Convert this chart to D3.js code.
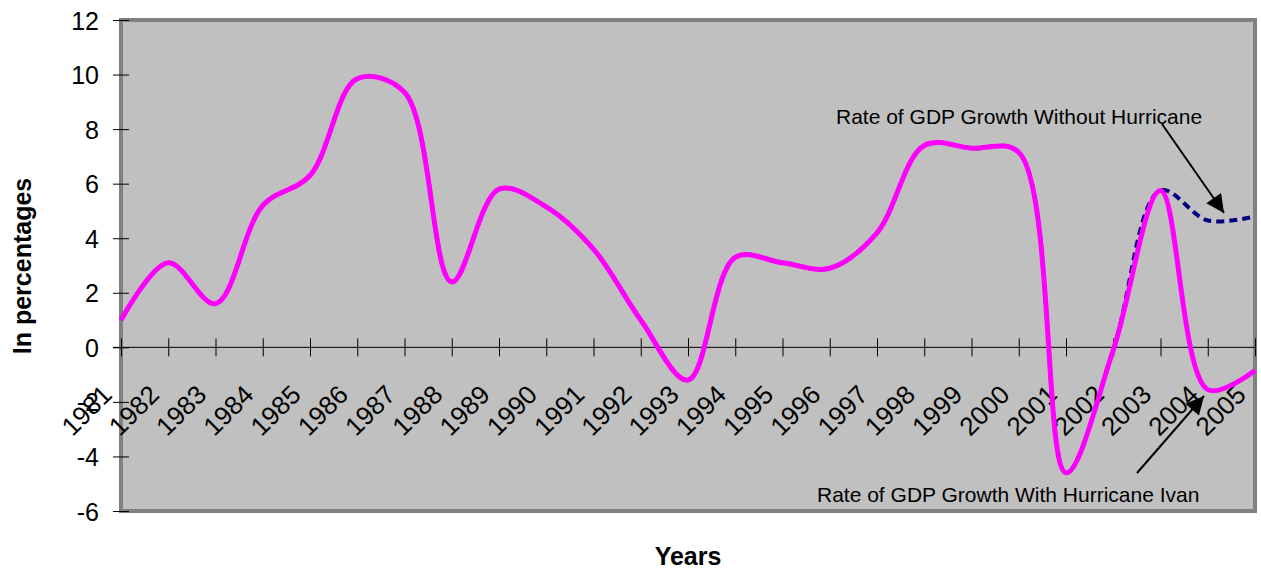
<!DOCTYPE html>
<html>
<head>
<meta charset="utf-8">
<script src="https://cdn.jsdelivr.net/npm/d3@7"></script>
<style>
  body { margin: 0; background: #fff; }
  text { font-family: Arial, "Liberation Sans", sans-serif; fill: #000; }
</style>
</head>
<body>
<div id="chart"></div>
<script>
const years = ['1981', '1982', '1983', '1984', '1985', '1986', '1987', '1988', '1989', '1990',
  '1991', '1992', '1993', '1994', '1995', '1996', '1997', '1998', '1999', '2000',
  '2001', '2002', '2003', '2004', '2005']

// growth with hurricane Ivan (pink)
const withIvan = [1.0, 3.1, 1.6, 5.2, 6.3, 9.85, 9.35, 2.4, 5.8, 5.15,
  3.6, 1.0, -1.2, 3.3, 3.1, 2.9, 4.2, 7.4, 7.3, 7.15,
  -4.6, -0.1, 5.75, -1.55, -0.85]

// growth without hurricane (navy dashed), same as above until 2003
const withoutHurricane = [1.0, 3.1, 1.6, 5.2, 6.3, 9.85, 9.35, 2.4, 5.8, 5.15,
  3.6, 1.0, -1.2, 3.3, 3.1, 2.9, 4.2, 7.4, 7.3, 7.15,
  -4.6, -0.1, 5.75, 4.65, 4.8]

const yTicks = [-6, -4, -2, 0, 2, 4, 6, 8, 10, 12]

window.onload = function () {
  const width = 1261
  const height = 569
  const left = 121, right = 1255, top = 20, bottom = 511

  const svg = d3.select('#chart')
    .append('svg')
    .attr('width', width)
    .attr('height', height)

  const x = d3.scalePoint().domain(years).range([left, right])
  const y = d3.scaleLinear().domain([-6, 12]).range([bottom, top])

  const defs = svg.append('defs')
  defs.append('marker')
    .attr('id', 'head')
    .attr('viewBox', '0 0 10 10')
    .attr('refX', 10)
    .attr('refY', 5)
    .attr('markerUnits', 'userSpaceOnUse')
    .attr('markerWidth', 21)
    .attr('markerHeight', 18)
    .attr('orient', 'auto')
    .append('path')
    .attr('d', 'M0,0 L10,5 L0,10 Z')
    .attr('fill', '#000')

  // plot area
  svg.append('rect')
    .attr('x', left)
    .attr('y', top)
    .attr('width', right - left)
    .attr('height', bottom - top)
    .attr('fill', '#c0c0c0')

  svg.append('rect')
    .attr('x', left)
    .attr('y', top)
    .attr('width', right - left)
    .attr('height', bottom - top)
    .attr('fill', 'none')
    .attr('stroke', '#808080')
    .attr('stroke-width', 4)

  // y axis
  const yAxis = svg.append('g')
    .attr('transform', 'translate(' + left + ',0)')
    .call(d3.axisLeft(y).tickValues(yTicks).tickSize(8).tickPadding(14)
      .tickFormat(function (d) { return String(d) }))
  yAxis.select('.domain').remove()
  yAxis.selectAll('.tick line').attr('x1', 8).attr('stroke', '#000')
  yAxis.selectAll('.tick text')
    .style('font-size', '25px')
    .attr('dy', '0.36em')

  // x axis at zero
  const xAxis = svg.append('g')
    .attr('transform', 'translate(0,' + y(0) + ')')
    .call(d3.axisBottom(x).tickSize(9))
  xAxis.select('.domain')
    .attr('d', 'M' + (left - 8) + ',0H' + right)
    .attr('stroke', '#000')
  xAxis.selectAll('.tick line').attr('y1', -9).attr('stroke', '#000')
  xAxis.selectAll('.tick text')
    .attr('y', 0)
    .attr('dy', 0)
    .attr('text-anchor', 'end')
    .attr('transform', 'translate(-8,49) rotate(-45)')
    .style('font-size', '26px')

  // series
  const line = d3.line()
    .defined(function (d) { return d != null })
    .x(function (d, i) { return x(years[i]) })
    .y(function (d) { return y(d) })
    .curve(d3.curveCatmullRom.alpha(0.5))

  svg.append('path')
    .datum(withoutHurricane)
    .attr('d', line)
    .attr('fill', 'none')
    .attr('stroke', '#000080')
    .attr('stroke-width', 4)
    .attr('stroke-dasharray', '8,5')

  svg.append('path')
    .datum(withIvan)
    .attr('d', line)
    .attr('fill', 'none')
    .attr('stroke', '#ff00ff')
    .attr('stroke-width', 5)
    .attr('stroke-linejoin', 'round')

  // annotations
  svg.append('text')
    .attr('x', 836)
    .attr('y', 124)
    .style('font-size', '21px')
    .text('Rate of GDP Growth Without Hurricane')

  svg.append('line')
    .attr('x1', 1162).attr('y1', 124)
    .attr('x2', 1224).attr('y2', 213)
    .attr('stroke', '#000')
    .attr('stroke-width', 2)
    .attr('marker-end', 'url(#head)')

  svg.append('text')
    .attr('x', 817)
    .attr('y', 502)
    .style('font-size', '21px')
    .text('Rate of GDP Growth With Hurricane Ivan')

  svg.append('line')
    .attr('x1', 1137).attr('y1', 473)
    .attr('x2', 1204).attr('y2', 396)
    .attr('stroke', '#000')
    .attr('stroke-width', 2)
    .attr('marker-end', 'url(#head)')

  // axis titles
  svg.append('text')
    .attr('transform', 'translate(31,266) rotate(-90)')
    .attr('text-anchor', 'middle')
    .style('font-size', '25px')
    .style('font-weight', 'bold')
    .text('In percentages')

  svg.append('text')
    .attr('x', 688)
    .attr('y', 565)
    .attr('text-anchor', 'middle')
    .style('font-size', '25px')
    .style('font-weight', 'bold')
    .text('Years')
}
</script>
</body>
</html>
